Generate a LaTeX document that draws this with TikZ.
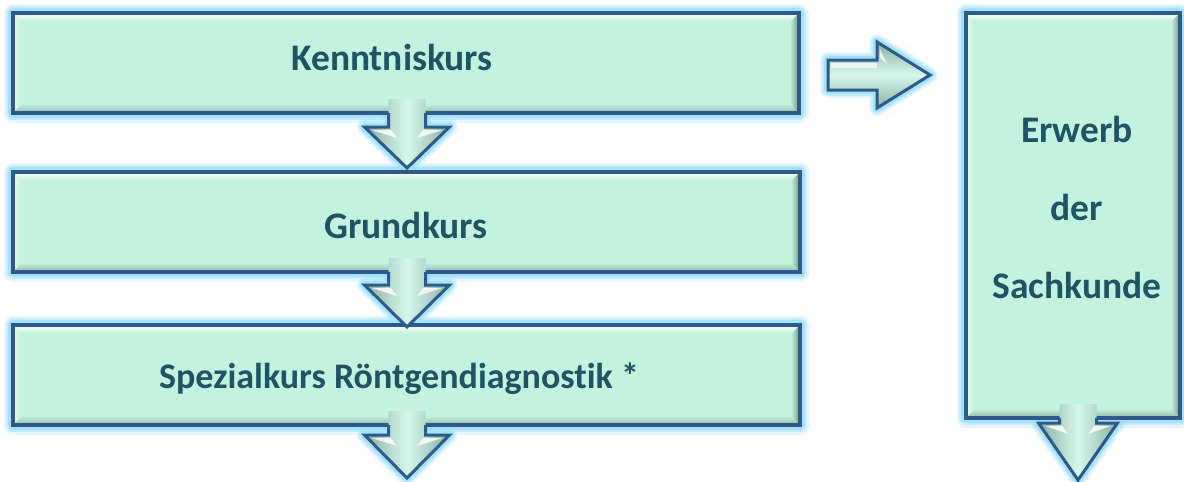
\documentclass[tikz,border=0pt]{standalone}
\usepackage{fontspec}
\setmainfont{Carlito}[Ligatures=NoCommon]
\usetikzlibrary{calc,backgrounds}
\definecolor{mint}{RGB}{195,242,222}
\definecolor{edgeblue}{RGB}{46,90,138}
\definecolor{glowc}{RGB}{160,225,250}
\definecolor{txtc}{RGB}{30,84,100}
\definecolor{bevdark}{RGB}{112,145,135}
\definecolor{bevmid}{RGB}{145,180,168}
\definecolor{armlight}{RGB}{215,247,235}
\definecolor{armdark}{RGB}{140,175,163}
\tikzset{
  box/.style={rectangle, inner sep=0pt, outer sep=0pt, fill=mint},
  lbl/.style={font=\fontsize{37.5}{42}\selectfont\bfseries, text=txtc, anchor=base, inner sep=0pt},
  rim/.style={draw=edgeblue, line width=3.5pt, line join=miter},
  armrim/.style={draw=edgeblue, line width=3pt, line join=miter},
  glowln/.style={draw=glowc, line width=#1, line join=round},
}
% glow round a box
\newcommand\glowbox[1]{%
  \foreach \w/\o in {19/0.25, 14/0.45, 10/0.85} {%
    \draw[glowln=\w pt, opacity=\o] (#1.north west) rectangle (#1.south east);}}
% bevel inside a box
\newcommand\bevel[2]{%
  \shade[top color=white, bottom color=mint, opacity=.95] (#1.north west) -- (#1.north east) -- ($(#1.north east)+(-#2,#2)$) -- ($(#1.north west)+(#2,#2)$) -- cycle;
  \shade[left color=white, right color=mint, opacity=.6] (#1.north west) -- ($(#1.north west)+(#2,#2)$) -- ($(#1.south west)+(#2,-#2)$) -- (#1.south west) -- cycle;
  \shade[top color=mint, bottom color=bevmid] (#1.south west) -- ($(#1.south west)+(#2,-#2)$) -- ($(#1.south east)+(-#2,-#2)$) -- (#1.south east) -- cycle;
  \shade[left color=mint, right color=bevdark] (#1.north east) -- (#1.south east) -- ($(#1.south east)+(-#2,-#2)$) -- ($(#1.north east)+(-#2,#2)$) -- cycle;
  \draw[rim] (#1.north west) rectangle (#1.south east);}
% down arrow below a box: node, x of centre, gap, head length, head half width
\newcommand\dnarrow[5]{%
  \coordinate (ax) at (#2,0);
  \coordinate (#1-a) at (#1.south -| ax);
  \begin{scope}[on background layer]
    \foreach \w/\o in {16/0.25, 12/0.45, 8/0.85} {%
      \draw[glowln=\w pt, opacity=\o]
        ($(#1-a)+(-18.5,0)$) -- ($(#1-a)+(-18.5,#3)$) -- ($(#1-a)+(-#5,#3)$) -- ($(#1-a)+(0,#3+#4)$) -- ($(#1-a)+(#5,#3)$) -- ($(#1-a)+(18.5,#3)$) -- ($(#1-a)+(18.5,0)$);}
  \end{scope}
  \shade[left color=armdark, right color=armdark, middle color=armlight]
    ($(#1-a)+(-18.5,-14)$) -- ($(#1-a)+(-18.5,#3)$) -- ($(#1-a)+(-#5,#3)$) -- ($(#1-a)+(0,#3+#4)$) -- ($(#1-a)+(#5,#3)$) -- ($(#1-a)+(18.5,#3)$) -- ($(#1-a)+(18.5,-14)$) -- cycle;
  \fill[white, opacity=.8] ($(#1-a)+(-#5+7,#3+3)$) -- ($(#1-a)+(-16,#3+3)$) -- ($(#1-a)+(-10,#3+11)$) -- cycle;
  \fill[white, opacity=.8] ($(#1-a)+(#5-7,#3+3)$) -- ($(#1-a)+(16,#3+3)$) -- ($(#1-a)+(10,#3+11)$) -- cycle;
  \draw[armrim] ($(#1-a)+(-18.5,0)$) -- ($(#1-a)+(-18.5,#3)$) -- ($(#1-a)+(-#5,#3)$) -- ($(#1-a)+(0,#3+#4)$) -- ($(#1-a)+(#5,#3)$) -- ($(#1-a)+(18.5,#3)$) -- ($(#1-a)+(18.5,0)$);}
\begin{document}
\begin{tikzpicture}[x=1pt,y=-1pt]
\useasboundingbox (0,0) rectangle (1184,482);
% boxes
\node[box, minimum width=786pt, minimum height=100pt] (b1) at (406,63) {};
\node[box, minimum width=787pt, minimum height=100pt] (b2) at (406.5,222) {};
\node[box, minimum width=787pt, minimum height=100pt] (b3) at (406.5,375) {};
\node[box, minimum width=214pt, minimum height=405pt] (r) at (1073,215.5) {};
\begin{scope}[on background layer]
  \fill[white] (0,0) rectangle (1184,482);
  \glowbox{b1}\glowbox{b2}\glowbox{b3}\glowbox{r}
\end{scope}
\bevel{b1}{9}\bevel{b2}{9}\bevel{b3}{9}\bevel{r}{9}
% down arrows
\dnarrow{b1}{407}{14}{41}{42.5}
\dnarrow{b2}{407}{13}{42}{42.5}
\dnarrow{b3}{407}{10}{43}{42.5}
\dnarrow{r}{1078}{5}{57}{39.5}
% right arrow
\coordinate (ra1) at (828,60);
\coordinate (ra2) at (877,60);
\coordinate (ra3) at (877,42);
\coordinate (ratip) at (930,75);
\coordinate (ra5) at (877,108);
\coordinate (ra6) at (877,90);
\coordinate (ra7) at (828,90);
\begin{scope}[on background layer]
  \foreach \w/\o in {16/0.25, 12/0.45, 8/0.85} {%
    \draw[glowln=\w pt, opacity=\o]
      (ra1) -- (ra2) -- (ra3) -- (ratip) -- (ra5) -- (ra6) -- (ra7) -- cycle;}
\end{scope}
\shade[top color=armdark, bottom color=armdark, middle color=armlight]
  (ra1) -- (ra2) -- (ra3) -- (ratip) -- (ra5) -- (ra6) -- (ra7) -- cycle;
\fill[white, opacity=.7] ($(ra3)+(3,7)$) -- ($(ra3)+(3,16)$) -- ($(ra3)+(10,22)$) -- cycle;
\fill[white, opacity=.7] ($(ra1)+(3,3)$) -- ($(ra2)+(0,3)$) -- ($(ra2)+(0,8)$) -- ($(ra1)+(3,8)$) -- cycle;
\draw[armrim] (ra1) -- (ra2) -- (ra3) -- (ratip) -- (ra5) -- (ra6) -- (ra7) -- cycle;
% labels
\node[lbl] (t1) at (392,70) {Kenntniskurs};
\node[lbl] (t2) at (406,238) {Grundkurs};
\node[lbl, font=\fontsize{36}{40}\selectfont\bfseries] (t3) at (399,388) {Spezialkurs Röntgendiagnostik *};
\node[lbl] (t4) at (1077,142) {Erwerb};
\node[lbl] (t5) at (1077,220) {der};
\node[lbl] (t6) at (1077,298) {Sachkunde};
\end{tikzpicture}
\end{document}
